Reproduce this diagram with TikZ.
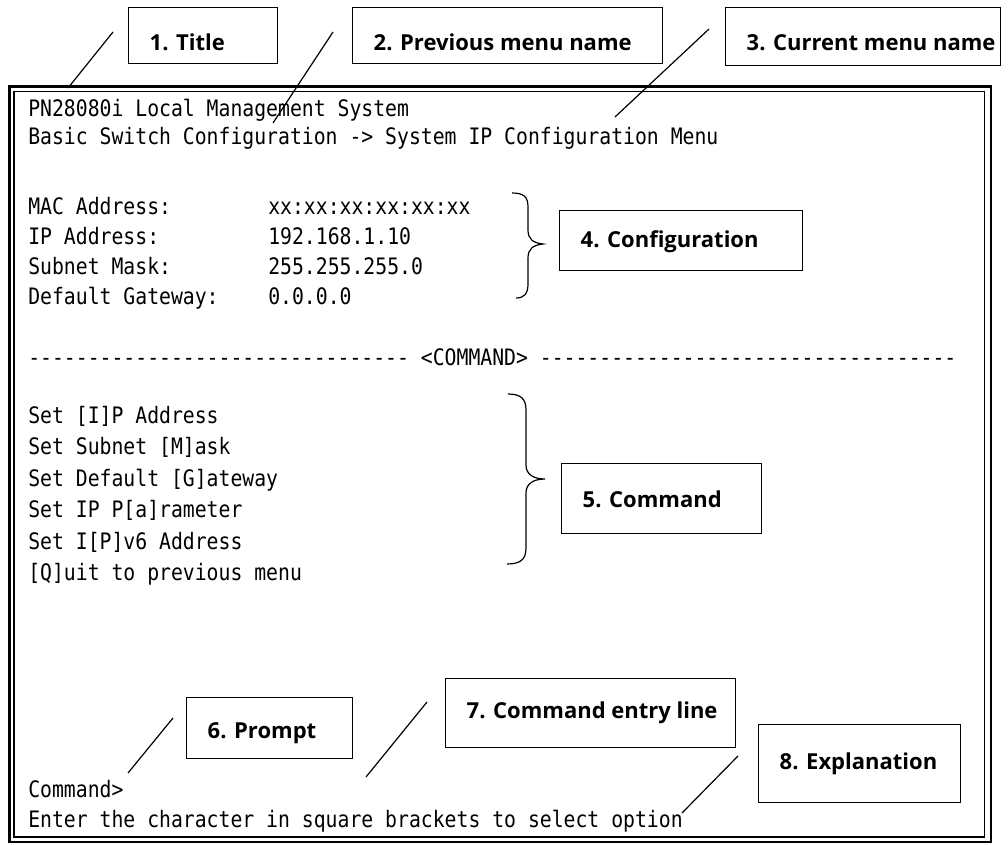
\documentclass[tikz,border=0pt]{standalone}
\usepackage{fontspec}
\newfontfamily\term[FakeStretch=0.872,Ligatures=TeXOff]{DejaVu Sans Mono}
\newfontfamily\lblf{Open Sans}
% name, x, y, w, h, downward text shift (px), text
\newcommand\callout[7]{\node[lbl, minimum height=#5*0.75pt] (#1) at (#2,#3) {\raisebox{-\dimexpr #6pt*3/4\relax}[\height][\depth]{\makebox[\dimexpr #4pt*3/4\relax][l]{\hspace*{15.75pt}#7}}};}
\begin{document}
\begin{tikzpicture}[x=0.75pt,y=-0.75pt,
  term/.style={anchor=base west, inner sep=0pt, font=\term\fontsize{17pt}{20pt}\selectfont},
  lbl/.style={draw, line width=1.1pt, inner xsep=0pt, inner ysep=0pt, anchor=north west, font=\lblf\bfseries\fontsize{16.5pt}{19pt}\selectfont},
  slash/.style={line width=0.9pt},
  bracepath/.style={line width=0.9pt},
  outerframe/.style={line width=2pt},
  innerframe/.style={line width=1.2pt}]
\useasboundingbox (0,0) rectangle (1008,845);
% frame
\draw[outerframe] (9.5,86.5) rectangle (991,842);
\draw[innerframe] (14,91.5) rectangle (984.5,837);
% terminal text
\node[term] (l1) at (28,117) {PN28080i Local Management System};
\node[term] (l2) at (28,145) {Basic Switch Configuration -> System IP Configuration Menu};
\node[term] (mac) at (28,215) {MAC Address:};
\node[term] (macv) at (268,215) {xx:xx:xx:xx:xx:xx};
\node[term] (ip) at (28,245) {IP Address:};
\node[term] (ipv) at (268,245) {192.168.1.10};
\node[term] (sm) at (28,275) {Subnet Mask:};
\node[term] (smv) at (268,275) {255.255.255.0};
\node[term] (gw) at (28,305) {Default Gateway:};
\node[term] (gwv) at (268,305) {0.0.0.0};
\node[term] (cmdline) at (28,366) {-------------------------------- <COMMAND> -----------------------------------};
\node[term] (c1) at (28,423) {Set [I]P Address};
\node[term] (c2) at (28,454) {Set Subnet [M]ask};
\node[term] (c3) at (28,486) {Set Default [G]ateway};
\node[term] (c4) at (28,517) {Set IP P[a]rameter};
\node[term] (c5) at (28,549) {Set I[P]v6 Address};
\node[term] (c6) at (28,580) {[Q]uit to previous menu};
\node[term] (prm) at (28,797) {Command>};
\node[term] (hint) at (28,827) {Enter the character in square brackets to select option};
% callout boxes
\callout{title}{128}{7}{149}{56}{7}{1. Title}
\callout{prev}{352}{7}{310}{56}{7}{2. Previous menu name}
\callout{cur}{725}{7}{275}{58}{6}{3. Current menu name}
\callout{conf}{559}{210}{243}{60}{1}{4. Configuration}
\callout{cmd}{561}{463}{200}{70}{1}{5. Command}
\callout{prompt}{186}{697}{166}{61}{5}{6. Prompt}
\callout{entry}{445}{678}{290}{69}{0}{7. Command entry line}
\callout{expl}{758}{724}{202}{78}{0}{8. Explanation}
% slash connectors
\coordinate (s1a) at (113,32); \coordinate (s1b) at (68,88);
\coordinate (s2a) at (333,32); \coordinate (s2b) at (273,123);
\coordinate (s3a) at (709,29); \coordinate (s3b) at (615,117);
\coordinate (s6a) at (173,718); \coordinate (s6b) at (128,773);
\coordinate (s7a) at (427,702); \coordinate (s7b) at (366,777);
\coordinate (s8a) at (738,756); \coordinate (s8b) at (682,813);
\draw[slash] (s1a) -- (s1b);
\draw[slash] (s2a) -- (s2b);
\draw[slash] (s3a) -- (s3b);
\draw[slash] (s6a) -- (s6b);
\draw[slash] (s7a) -- (s7b);
\draw[slash] (s8a) -- (s8b);
% braces
\draw[bracepath] (512,193) .. controls (524,193) and (528,197) .. (528,207) -- (528,230)
  .. controls (528,239) and (533,243) .. (543,244) .. controls (533,245) and (528,249) .. (528,258)
  -- (528,284) .. controls (528,294) and (524,298) .. (516,298);
\draw[bracepath] (508,394) .. controls (521,394) and (526,399) .. (526,410) -- (526,465)
  .. controls (526,474) and (533,479) .. (545,479) .. controls (533,479) and (526,484) .. (526,493)
  -- (526,548) .. controls (526,559) and (521,564) .. (507,564);
\end{tikzpicture}
\end{document}
